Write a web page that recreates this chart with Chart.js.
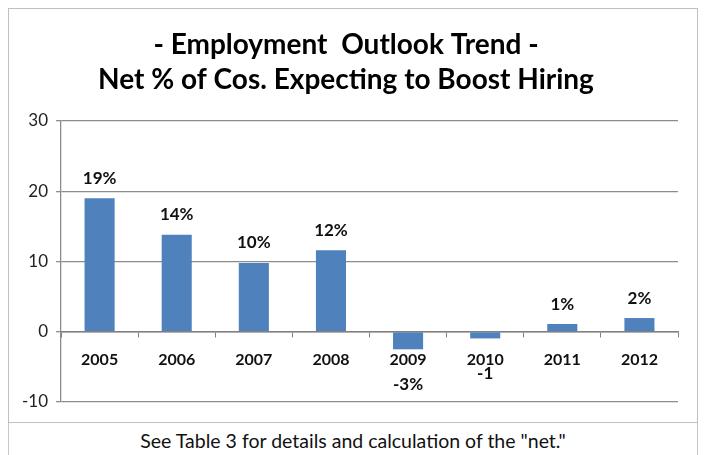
<!DOCTYPE html>
<html>
<head>
<meta charset="utf-8">
<script src="https://cdn.jsdelivr.net/npm/chart.js@4/dist/chart.umd.min.js"></script>
<style>
  html, body { margin: 0; padding: 0; background: #fff; width: 705px; height: 455px; overflow: hidden; }
  #box { position: absolute; left: 8px; top: 8px; width: 688px; height: 413px; border: 1.5px solid #c0c0c0; }
  #foot { position: absolute; left: 8px; top: 423px; width: 688px; height: 40px; border-left: 1.5px solid #c8c8c8; border-right: 1.5px solid #c8c8c8;
          font-family: Lato, "Open Sans", sans-serif; font-size: 19.5px; color: #111; text-align: center; line-height: 36px; }
  canvas { display: block; }
</style>
</head>
<body>
<div id="box"><canvas id="c" width="688" height="413"></canvas></div>
<div id="foot">See Table 3 for details and calculation of the "net."</div>
<script>
const categories = ['2005', '2006', '2007', '2008', '2009', '2010', '2011', '2012'];
const netValues = [19, 13.8, 9.8, 11.6, -2.5, -0.95, 1.1, 1.95];
const valueLabels = ['19%', '14%', '10%', '12%', '-3%', '-1', '1%', '2%'];
const yTicks = [-10, 0, 10, 20, 30];
const titleLines = ['- Employment  Outlook Trend -', 'Net % of Cos. Expecting to Boost Hiring'];

const FONT = 'Lato, "Open Sans", sans-serif';

const labelPlugin = {
  id: 'valueLabels',
  afterDatasetsDraw(chart) {
    const ctx = chart.ctx;
    const meta = chart.getDatasetMeta(0);
    ctx.save();
    ctx.font = 'bold 17px ' + FONT;
    ctx.fillStyle = '#111';
    ctx.textAlign = 'center';
    ctx.textBaseline = 'middle';
    meta.data.forEach((bar, i) => {
      const v = netValues[i];
      const y = v >= 0 ? bar.y - 20 : bar.y + 35;
      ctx.fillText(valueLabels[i], bar.x, y);
    });
    ctx.restore();
  }
};

new Chart(document.getElementById('c'), {
  type: 'bar',
  data: {
    labels: categories,
    datasets: [{
      data: netValues,
      backgroundColor: '#4F81BD',
      borderWidth: 0,
      barPercentage: 0.39,
      categoryPercentage: 1.0
    }]
  },
  options: {
    responsive: false,
    animation: false,
    layout: { padding: { left: 5, right: 19, top: 0, bottom: 20 } },
    plugins: {
      legend: { display: false },
      tooltip: { enabled: false },
      title: {
        display: true,
        text: titleLines,
        color: '#000',
        font: { family: FONT, size: 28, weight: 'bold', lineHeight: 1.25 },
        padding: { top: 18, bottom: 24 }
      }
    },
    scales: {
      x: {
        position: { y: 0 },
        grid: { drawOnChartArea: false, drawTicks: true, tickLength: 5, offset: true, color: '#808080' },
        border: { display: true, color: '#808080', width: 1.5 },
        ticks: {
          color: '#111',
          font: { family: FONT, size: 16, weight: 'bold' },
          padding: 13
        }
      },
      y: {
        min: -10,
        max: 30,
        afterBuildTicks(scale) { scale.ticks = yTicks.map(v => ({ value: v })); },
        grid: { color: '#8c8c8c', lineWidth: 1.3, drawTicks: true, tickLength: 5 },
        border: { display: true, color: '#8c8c8c', width: 1.3 },
        ticks: {
          color: '#222',
          font: { family: FONT, size: 17 },
          padding: 8
        }
      }
    }
  },
  plugins: [labelPlugin]
});
</script>
</body>
</html>
